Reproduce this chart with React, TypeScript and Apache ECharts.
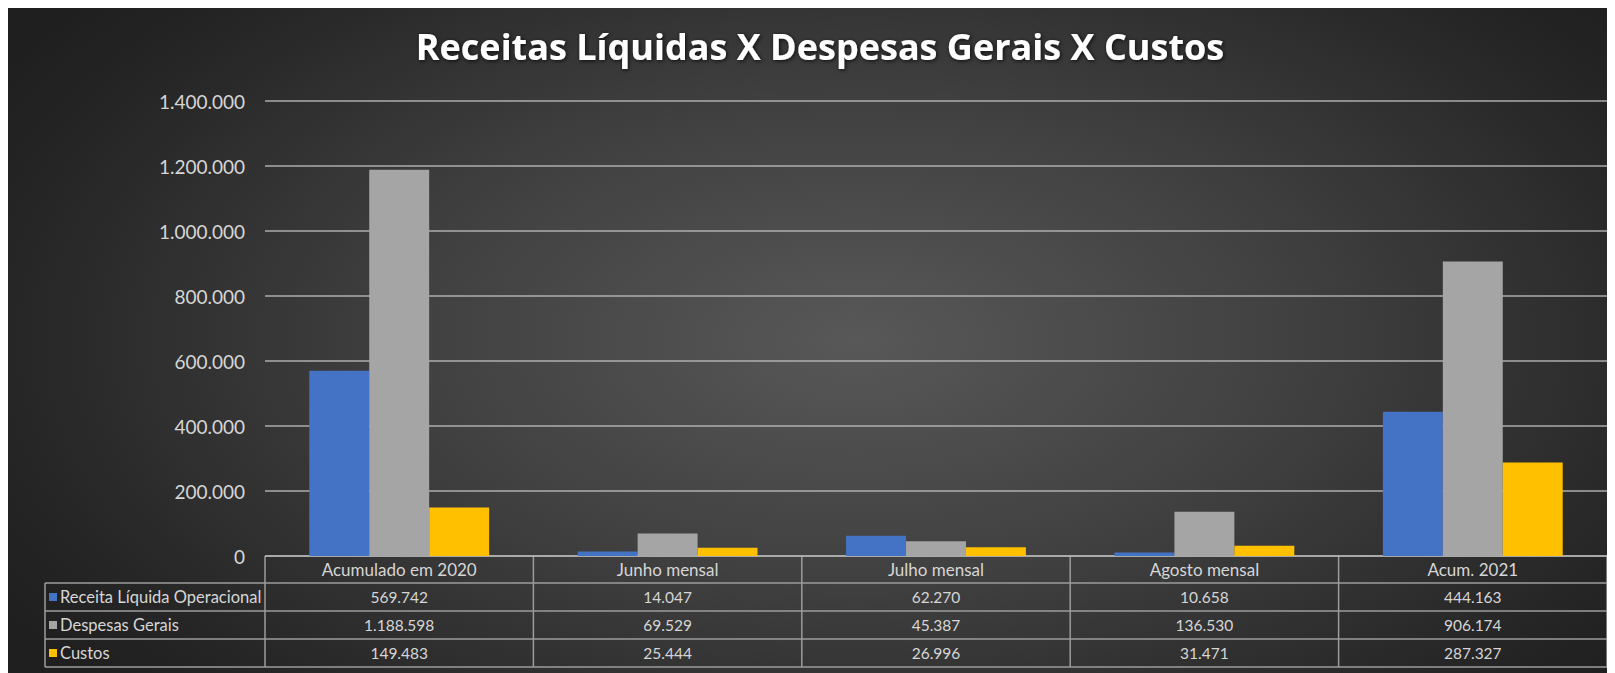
import React, { useEffect, useRef } from "react";
import * as echarts from "echarts";

const categories = ["Acumulado em 2020", "Junho mensal", "Julho mensal", "Agosto mensal", "Acum. 2021"];
const seriesNames = ["Receita Líquida Operacional", "Despesas Gerais", "Custos"];
const receita = [569742, 14047, 62270, 10658, 444163];
const despesas = [1188598, 69529, 45387, 136530, 906174];
const custos = [149483, 25444, 26996, 31471, 287327];
const colors = ["#4472C4", "#A5A5A5", "#FFC000"];
const yMax = 1400000;
const yInterval = 200000;
const titleText = "Receitas Líquidas X Despesas Gerais X Custos";

const W = 1600;
const H = 665;
const GRID_LEFT = 257;
const GRID_RIGHT = 1;
const GRID_TOP = 93;
const GRID_BOTTOM = 117;
const ROW_H = 28;
const HEADER_H = 27;
const TABLE_LEFT = 37;

const fmt = (n: number) => String(Math.round(n)).replace(/\B(?=(\d{3})+(?!\d))/g, ".");

export default function App() {
  const ref = useRef<HTMLDivElement>(null);
  useEffect(() => {
    if (!ref.current) return;
    const chart = echarts.init(ref.current, undefined, { renderer: "svg" });
    const allSeries = [receita, despesas, custos];
    const plotRight = W - GRID_RIGHT;
    const zeroY = H - GRID_BOTTOM;
    const colW = (plotRight - GRID_LEFT) / categories.length;
    const lineColor = "#9c9c9c";
    const textColor = "#d6d6d6";
    const font = "Lato, 'Noto Sans', sans-serif";
    const graphics: any[] = [];
    const rowTops = seriesNames.map((_, r) => zeroY + HEADER_H + r * ROW_H);
    const tableBottom = zeroY + HEADER_H + seriesNames.length * ROW_H;
    graphics.push({ type: "line", shape: { x1: GRID_LEFT, y1: zeroY, x2: plotRight, y2: zeroY }, style: { stroke: lineColor, lineWidth: 1.5 } });
    [...rowTops, tableBottom].forEach((y) => {
      graphics.push({ type: "line", shape: { x1: TABLE_LEFT, y1: y, x2: plotRight, y2: y }, style: { stroke: lineColor, lineWidth: 1.5 } });
    });
    graphics.push({ type: "line", shape: { x1: TABLE_LEFT, y1: rowTops[0], x2: TABLE_LEFT, y2: tableBottom }, style: { stroke: lineColor, lineWidth: 1.5 } });
    for (let i = 0; i <= categories.length; i++) {
      const x = GRID_LEFT + i * colW;
      graphics.push({ type: "line", shape: { x1: x, y1: zeroY, x2: x, y2: tableBottom }, style: { stroke: lineColor, lineWidth: 1.5 } });
    }
    categories.forEach((c, i) => {
      graphics.push({
        type: "text",
        x: GRID_LEFT + (i + 0.5) * colW,
        y: zeroY + HEADER_H / 2,
        style: { text: c, fill: textColor, fontSize: 17, fontFamily: font, align: "center", verticalAlign: "middle" },
      });
    });
    seriesNames.forEach((name, r) => {
      const cy = rowTops[r] + ROW_H / 2;
      graphics.push({ type: "rect", shape: { x: TABLE_LEFT + 4, y: cy - 4, width: 8, height: 8 }, style: { fill: colors[r] } });
      graphics.push({
        type: "text",
        x: TABLE_LEFT + 15,
        y: cy,
        style: { text: name, fill: textColor, fontSize: 16.5, fontFamily: font, align: "left", verticalAlign: "middle" },
      });
      allSeries[r].forEach((v, i) => {
        graphics.push({
          type: "text",
          x: GRID_LEFT + (i + 0.5) * colW,
          y: cy,
          style: { text: fmt(v), fill: textColor, fontSize: 15.5, fontFamily: font, align: "center", verticalAlign: "middle" },
        });
      });
    });

    chart.setOption({
      animation: false,
      backgroundColor: "transparent",
      title: {
        text: titleText,
        left: 812,
        textAlign: "center",
        top: 20,
        padding: 0,
        textStyle: {
          color: "#ffffff",
          fontSize: 36,
          fontWeight: "bold",
          fontFamily: "'Open Sans', 'Noto Sans', sans-serif",
          textShadowColor: "rgba(0,0,0,0.8)",
          textShadowBlur: 4,
          textShadowOffsetX: 1,
          textShadowOffsetY: 1,
        },
      },
      grid: { left: GRID_LEFT, right: GRID_RIGHT, top: GRID_TOP, bottom: GRID_BOTTOM, containLabel: false },
      xAxis: {
        type: "category",
        data: categories,
        axisLine: { show: false },
        axisTick: { show: false },
        axisLabel: { show: false },
      },
      yAxis: {
        type: "value",
        min: 0,
        max: yMax,
        interval: yInterval,
        axisLine: { show: false },
        axisTick: { show: false },
        axisLabel: {
          color: textColor,
          fontSize: 19,
          fontFamily: font,
          margin: 20,
          formatter: (v: number) => fmt(v),
        },
        splitLine: { lineStyle: { color: "rgba(190,190,190,0.65)", width: 1.8 } },
      },
      series: [receita, despesas, custos].map((d, k) => ({
        name: seriesNames[k],
        type: "bar",
        data: d,
        barGap: "0%",
        barCategoryGap: "33%",
        itemStyle: { color: colors[k] },
      })),
      graphic: graphics,
    });
    return () => chart.dispose();
  }, []);
  return (
    <div
      ref={ref}
      style={{
        width: W,
        height: H,
        background: "radial-gradient(ellipse 62% 80% at 53% 50%, #585858 0%, #404040 45%, #262626 85%, #1f1f1f 100%)",
      }}
    />
  );
}
